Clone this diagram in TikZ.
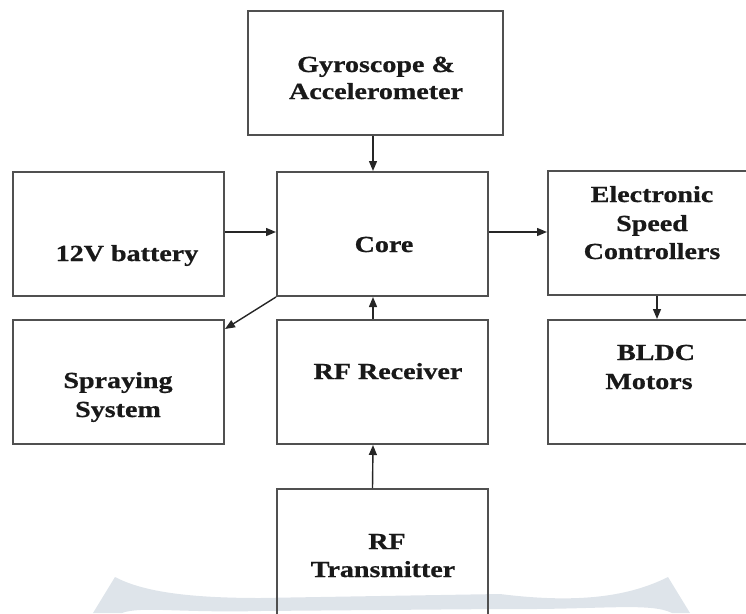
\documentclass[tikz,border=0pt]{standalone}
\usepackage{fontspec}
\newfontfamily\lab{Liberation Serif}[FakeStretch=1.22, FakeBold=0.8]
\usetikzlibrary{arrows.meta}
\definecolor{boxgray}{HTML}{505050}
\definecolor{wmark}{HTML}{DEE4EA}
\tikzset{
  blk/.style={draw=boxgray, line width=2pt, inner sep=0pt, minimum width=211pt, minimum height=124pt},
  txt/.style={anchor=base, inner sep=0pt, text=black!90, font=\lab\bfseries\fontsize{23}{28}\selectfont},
  arr/.style={draw=black!85, line width=1.4pt, -{Triangle[length=10pt,width=8pt]}}
}
\begin{document}
\begin{tikzpicture}[x=1pt, y=-1pt]
\useasboundingbox (0,0) rectangle (746,613);
\clip (0,0) rectangle (746,613);
% watermark
\fill[wmark] (93,613) -- (115,577) .. controls (140,590) and (180,598) .. (260,598) -- (500,594)
  .. controls (580,604) and (630,596) .. (668,577) -- (690,613) -- (672,613)
  .. controls (650,602) and (600,610) .. (500,609) -- (260,611)
  .. controls (180,613) and (140,606) .. (122,613) -- cycle;
% boxes
\node[blk, minimum width=255pt] (gyro) at (375.5,73) {};
\node[blk] (batt) at (118.5,234) {};
\node[blk] (core) at (382.5,234) {};
\node[blk] (esc) at (653.5,233) {};
\node[blk] (spray) at (118.5,382) {};
\node[blk] (recv) at (382.5,382) {};
\node[blk] (bldc) at (653.5,382) {};
\node[blk, minimum height=131pt] (tx) at (382,554.5) {};
% texts
\node[txt] (gyroA) at (376,72) {Gyroscope \&};
\node[txt] (gyroB) at (376,99) {Accelerometer};
\node[txt] (battA) at (127,261) {12V battery};
\node[txt] (coreA) at (384,252) {Core};
\node[txt] (escA) at (652,202) {Electronic};
\node[txt] (escB) at (652,231) {Speed};
\node[txt] (escC) at (652,259) {Controllers};
\node[txt] (bldcA) at (656,360) {BLDC};
\node[txt] (bldcB) at (649,389) {Motors};
\node[txt] (sprayA) at (118,388) {Spraying};
\node[txt] (sprayB) at (118,417) {System};
\node[txt] (recvA) at (388,379) {RF Receiver};
\node[txt] (txA) at (387,549) {RF};
\node[txt] (txB) at (383,577) {Transmitter};
% connectors
\draw[arr] ([xshift=-9.5pt]core.north |- gyro.south) -- ([xshift=-9.5pt]core.north);
\draw[arr] ([yshift=2pt]batt.east) -- ([yshift=2pt]core.west);
\draw[arr] ([yshift=2pt]core.east) -- ([yshift=1pt]esc.west);
\draw[arr] ([xshift=-9.5pt]recv.north) -- ([xshift=-9.5pt]core.south);
\draw[arr] ([xshift=-9.5pt]tx.north) -- ([xshift=-9.5pt]recv.south);
\draw[arr] ([xshift=3.5pt]esc.south) -- ([xshift=3.5pt]bldc.north);
\draw[arr] (core.south west) -- ([yshift=-10pt]spray.north east);
\end{tikzpicture}
\end{document}
